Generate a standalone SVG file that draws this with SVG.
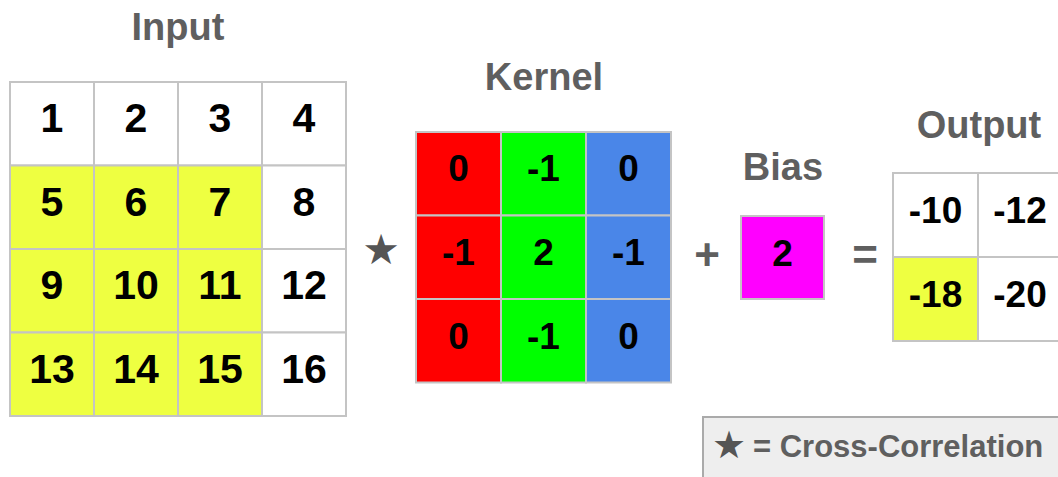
<svg xmlns="http://www.w3.org/2000/svg" width="1058" height="477" viewBox="0 0 1058 477">
<style>
.title{font-family:"Liberation Sans",Arial,sans-serif;font-weight:bold;font-size:38px;fill:#5f5f5f;text-anchor:middle}
.num{font-family:"Liberation Sans",Arial,sans-serif;font-weight:bold;fill:#000;text-anchor:middle}
.in{font-size:41px}
.kn{font-size:37px}
.out{font-size:37px}
.cell{stroke:#c4c4c4;stroke-width:2}
.op{font-family:"Liberation Sans",Arial,sans-serif;font-weight:bold;font-size:44px;fill:#5f5f5f;text-anchor:middle}
.star{font-family:"DejaVu Sans",sans-serif;fill:#555;text-anchor:middle}
</style>
<rect width="1058" height="477" fill="#fff"/>
<g id="input">
<text class="title" x="178" y="40">Input</text>
<g class="cell">
<rect x="10" y="82" width="84" height="83.5" fill="#fff"/>
<rect x="94" y="82" width="84" height="83.5" fill="#fff"/>
<rect x="178" y="82" width="84" height="83.5" fill="#fff"/>
<rect x="262" y="82" width="84" height="83.5" fill="#fff"/>
<rect x="10" y="165.5" width="84" height="83.5" fill="#eeff41"/>
<rect x="94" y="165.5" width="84" height="83.5" fill="#eeff41"/>
<rect x="178" y="165.5" width="84" height="83.5" fill="#eeff41"/>
<rect x="262" y="165.5" width="84" height="83.5" fill="#fff"/>
<rect x="10" y="249" width="84" height="83.5" fill="#eeff41"/>
<rect x="94" y="249" width="84" height="83.5" fill="#eeff41"/>
<rect x="178" y="249" width="84" height="83.5" fill="#eeff41"/>
<rect x="262" y="249" width="84" height="83.5" fill="#fff"/>
<rect x="10" y="332.5" width="84" height="83.5" fill="#eeff41"/>
<rect x="94" y="332.5" width="84" height="83.5" fill="#eeff41"/>
<rect x="178" y="332.5" width="84" height="83.5" fill="#eeff41"/>
<rect x="262" y="332.5" width="84" height="83.5" fill="#fff"/>
</g>
<g class="num in">
<text x="52" y="132">1</text><text x="136" y="132">2</text><text x="220" y="132">3</text><text x="304" y="132">4</text>
<text x="52" y="215.5">5</text><text x="136" y="215.5">6</text><text x="220" y="215.5">7</text><text x="304" y="215.5">8</text>
<text x="52" y="299">9</text><text x="136" y="299">10</text><text x="220" y="299">11</text><text x="304" y="299">12</text>
<text x="52" y="383">13</text><text x="136" y="383">14</text><text x="220" y="383">15</text><text x="304" y="383">16</text>
</g>
</g>
<g id="kernel">
<text class="title" x="544" y="90">Kernel</text>
<g class="cell">
<rect x="416" y="132" width="85" height="83.5" fill="#ff0000"/>
<rect x="501" y="132" width="85" height="83.5" fill="#00ff00"/>
<rect x="586" y="132" width="85" height="83.5" fill="#4a86e8"/>
<rect x="416" y="215.5" width="85" height="83.5" fill="#ff0000"/>
<rect x="501" y="215.5" width="85" height="83.5" fill="#00ff00"/>
<rect x="586" y="215.5" width="85" height="83.5" fill="#4a86e8"/>
<rect x="416" y="299" width="85" height="83.5" fill="#ff0000"/>
<rect x="501" y="299" width="85" height="83.5" fill="#00ff00"/>
<rect x="586" y="299" width="85" height="83.5" fill="#4a86e8"/>
</g>
<g class="num kn">
<text x="458.5" y="181">0</text><text x="543.5" y="181">-1</text><text x="628.5" y="181">0</text>
<text x="458.5" y="265">-1</text><text x="543.5" y="265">2</text><text x="628.5" y="265">-1</text>
<text x="458.5" y="349">0</text><text x="543.5" y="349">-1</text><text x="628.5" y="349">0</text>
</g>
</g>
<g id="bias">
<text class="title" x="783" y="180">Bias</text>
<rect class="cell" x="741" y="216" width="83" height="83" fill="#ff00ff"/>
<text class="num kn" x="782.5" y="266">2</text>
</g>
<g id="output">
<text class="title" x="979" y="138">Output</text>
<g class="cell">
<rect x="893" y="173" width="85" height="84" fill="#fff"/>
<rect x="978" y="173" width="85" height="84" fill="#fff"/>
<rect x="893" y="257" width="85" height="84" fill="#eeff41"/>
<rect x="978" y="257" width="85" height="84" fill="#fff"/>
</g>
<g class="num out">
<text x="935.5" y="223">-10</text><text x="1020" y="223">-12</text>
<text x="935.5" y="307">-18</text><text x="1020" y="307">-20</text>
</g>
</g>
<g id="operators">
<text class="star" x="381" y="264" font-size="42">★</text>
<text class="op" x="707" y="270">+</text>
<text class="op" x="865" y="270">=</text>
</g>
<g id="legend">
<rect x="703" y="417" width="400" height="100" fill="#eeeeee" stroke="#aaaaaa" stroke-width="2"/>
<text class="star" x="729" y="458" font-size="38">★</text>
<text x="753" y="457" font-family="Liberation Sans, Arial, sans-serif" font-weight="bold" font-size="31" fill="#5f5f5f">= Cross-Correlation</text>
</g>
</svg>
